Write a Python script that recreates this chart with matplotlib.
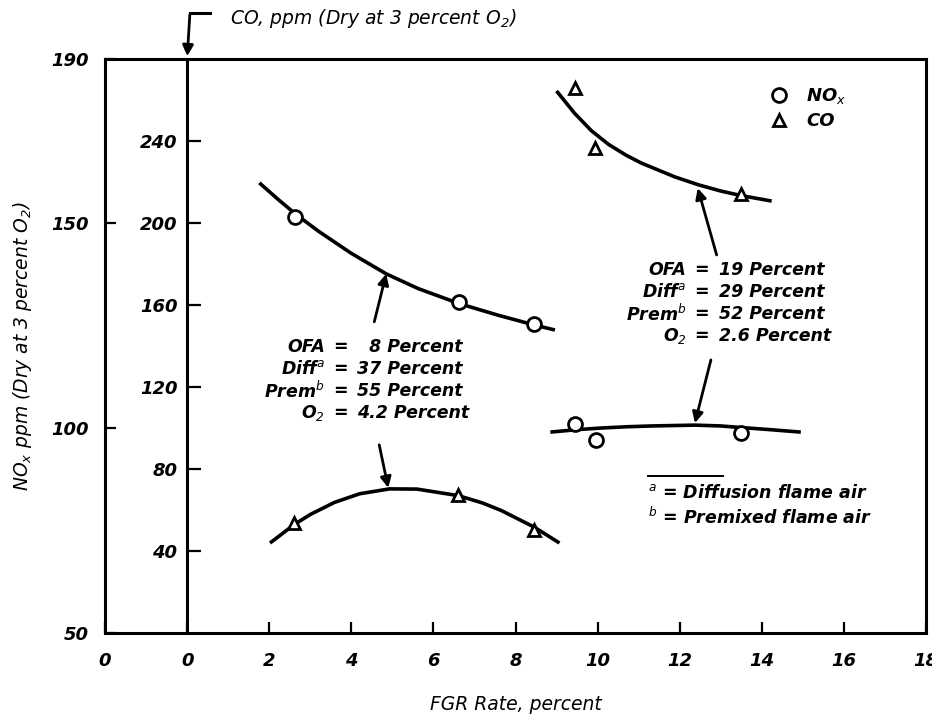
import matplotlib
matplotlib.use('Agg')
import matplotlib.pyplot as plt
from matplotlib.lines import Line2D

plt.rcParams['font.family'] = ['DejaVu Sans']
plt.rcParams['font.style'] = 'italic'
plt.rcParams['mathtext.fontset'] = 'dejavusans'

# FGR rate axis (two zeros: the NOx frame edge and the CO axis)
x_ticks = [-2, 0, 2, 4, 6, 8, 10, 12, 14, 16, 18]
x_labels = ['0', '0', '2', '4', '6', '8', '10', '12', '14', '16', '18']
nox_ticks = [50, 100, 150, 190]
co_ticks = [40, 80, 120, 160, 200, 240]

# measured points - NOx (circles)
nox_fgr_a = [2.63, 6.63, 8.44]
nox_val_a = [151.5, 130.7, 125.4]
nox_fgr_b = [9.46, 9.95, 13.49]
nox_val_b = [101.0, 97.1, 98.8]

# measured points - CO (triangles)
co_fgr_a = [2.61, 6.61, 8.46]
co_val_a = [53.7, 67.3, 50.2]
co_fgr_b = [9.44, 9.93, 13.49]
co_val_b = [265.9, 236.6, 214.1]

# faired curves
nox_curve_a_x = [1.76, 2.2, 2.64, 3.2, 4.0, 4.85, 5.63, 6.64, 7.58, 8.43, 8.96]
nox_curve_a_y = [159.8, 155.9, 152.2, 148.0, 142.6, 137.6, 134.0, 130.3, 127.5, 125.2, 123.9]
nox_curve_b_x = [8.85, 9.5, 10.1, 10.7, 11.32, 12.37, 13.0, 13.51, 14.2, 14.95]
nox_curve_b_y = [99.0, 99.6, 100.0, 100.3, 100.5, 100.7, 100.5, 100.1, 99.6, 99.0]
co_curve_a_x = [2.02, 2.61, 3.0, 3.59, 4.2, 4.93, 5.6, 6.61, 7.2, 7.66, 8.46, 9.07]
co_curve_a_y = [43.9, 52.9, 57.8, 63.7, 67.9, 70.3, 70.2, 67.0, 63.4, 59.7, 51.6, 43.9]
co_curve_b_x = [9.0, 9.44, 9.85, 10.27, 10.7, 11.07, 11.88, 12.46, 13.0, 13.49, 14.24]
co_curve_b_y = [264.4, 253.5, 245.0, 238.3, 233.0, 229.2, 222.5, 218.6, 215.6, 213.4, 210.7]

# operating conditions
cond_names = ['OFA', 'Diff$^a$', 'Prem$^b$', 'O$_2$']
cond_a = ['\u20078 Percent', '37 Percent', '55 Percent', '4.2 Percent']
cond_b = ['19 Percent', '29 Percent', '52 Percent', '2.6 Percent']

fig = plt.figure(figsize=(9.32, 7.16), dpi=100)
ax = fig.add_axes([105 / 932, 83 / 716, 821 / 932, 574 / 716])
ax.set_xlim(-2, 18)
ax.set_ylim(50, 190)
ax_co = ax.twinx()
ax_co.set_ylim(0, 280)
ax_co.axis('off')

for s in ax.spines.values():
    s.set_linewidth(2.2)

tick_font = dict(fontsize=13, fontweight='bold', fontstyle='italic')
ax.set_xticks(x_ticks)
ax.set_xticklabels(x_labels, **tick_font)
ax.set_yticks(nox_ticks)
ax.set_yticklabels([str(v) for v in nox_ticks], **tick_font)
ax.tick_params(axis='x', direction='in', length=8, width=1.6, pad=14)
ax.tick_params(axis='y', direction='in', length=8, width=1.6, pad=12)

# CO axis drawn at FGR = 0
co_ax = ax.secondary_yaxis(0.1, functions=(lambda n: 2 * (n - 50), lambda c: c / 2 + 50))
co_ax.spines['left'].set_linewidth(2.2)
co_ax.set_yticks(co_ticks)
co_ax.set_yticklabels([str(v) for v in co_ticks], **tick_font)
co_ax.tick_params(direction='in', length=10, width=1.6, pad=7)

ax.set_xlabel('FGR Rate, percent', fontsize=13.5)
ax.xaxis.set_label_coords(0.5, -0.108)
ax.set_ylabel('NO$_x$ ppm (Dry at 3 percent O$_2$)', fontsize=13.5)
ax.yaxis.set_label_coords(-0.086, 0.5)

fig.text(230 / 932, 1 - 18 / 716, 'CO, ppm (Dry at 3 percent O$_2$)',
         fontsize=13.5, ha='left', va='center')
fig.add_artist(Line2D([190 / 932, 210 / 932], [1 - 13 / 716, 1 - 13 / 716],
                      color='k', lw=2.2))
ax.annotate('', xy=(0, 190), xycoords='data',
            xytext=(190 / 932, 1 - 12 / 716), textcoords='figure fraction',
            arrowprops=dict(arrowstyle='-|>', color='k', lw=2, mutation_scale=16),
            annotation_clip=False)

# curves and points
for cx, cy, a in [(nox_curve_a_x, nox_curve_a_y, ax), (nox_curve_b_x, nox_curve_b_y, ax),
                  (co_curve_a_x, co_curve_a_y, ax_co), (co_curve_b_x, co_curve_b_y, ax_co)]:
    a.plot(cx, cy, color='k', lw=2.6, solid_capstyle='butt', solid_joinstyle='round')

mk = dict(linestyle='none', mfc='white', mec='k', mew=2, zorder=5)
ax.plot(nox_fgr_a, nox_val_a, marker='o', ms=10, **mk)
ax.plot(nox_fgr_b, nox_val_b, marker='o', ms=10, **mk)
ax_co.plot(co_fgr_a, co_val_a, marker='^', ms=8, **mk)
ax_co.plot(co_fgr_b, co_val_b, marker='^', ms=8, **mk)

# condition blocks
ann_font = dict(fontsize=12.5, fontweight='bold')
for eq_x, rows_y, vals in [(3.73, [119.8, 114.4, 109.0, 103.7], cond_a),
                           (12.54, [138.5, 133.2, 127.8, 122.4], cond_b)]:
    for name, y, v in zip(cond_names, rows_y, vals):
        ax.text(eq_x, y, '=', ha='center', va='center', **ann_font)
        ax.annotate(name, (eq_x, y), xytext=(-11, 0), textcoords='offset points',
                    ha='right', va='center', **ann_font)
        ax.annotate(v, (eq_x, y), xytext=(12, 0), textcoords='offset points',
                    ha='left', va='center', **ann_font)

arrow = dict(arrowstyle='-|>', color='k', lw=2, mutation_scale=16, shrinkA=0, shrinkB=0)
ax.annotate('', xy=(4.85, 137.6), xytext=(4.56, 125.9), arrowprops=arrow)
ax.annotate('', xy=(4.90, 85.4), xytext=(4.68, 95.9), arrowprops=arrow)
ax.annotate('', xy=(12.44, 158.5), xytext=(12.90, 142.2), arrowprops=arrow)
ax.annotate('', xy=(12.37, 101.2), xytext=(12.76, 116.6), arrowprops=arrow)

# legend
handles = [Line2D([], [], marker='o', ms=10, **mk),
           Line2D([], [], marker='^', ms=8, **mk)]
ax.legend(handles, ['NO$_x$', 'CO'], loc='upper left',
          bbox_to_anchor=(770 / 932, 1 - 86 / 716), bbox_transform=fig.transFigure,
          frameon=False, borderpad=0, borderaxespad=0, handlelength=1.0,
          handletextpad=1.0, labelspacing=0.35,
          prop=dict(size=13, weight='bold', style='italic'))

# footnotes
ax.plot([11.22, 13.05], [88.3, 88.3], color='k', lw=1.4)
ax.text(11.22, 84.1, '$^a$ = Diffusion flame air', ha='left', va='center', **ann_font)
ax.text(11.22, 78.3, '$^b$ = Premixed flame air', ha='left', va='center', **ann_font)

fig.savefig('out.png', dpi=100)
